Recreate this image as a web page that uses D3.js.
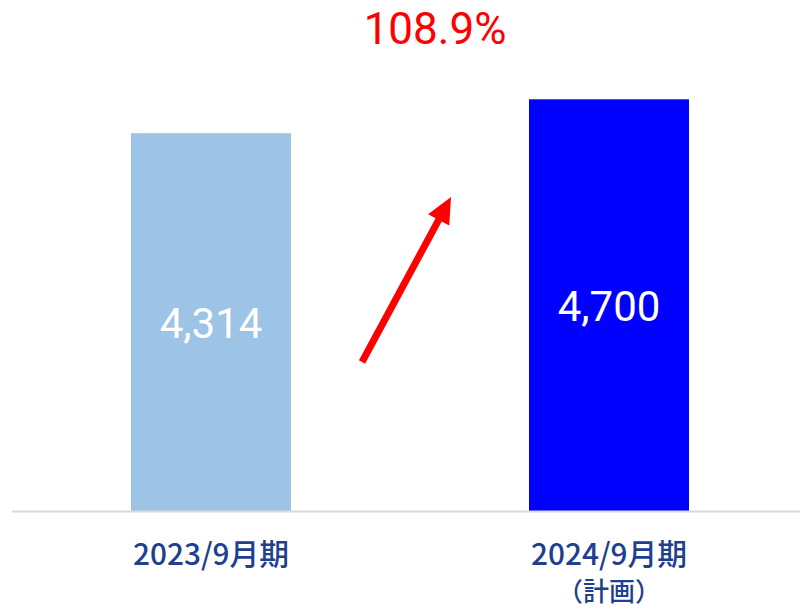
<!DOCTYPE html>
<html>
<head>
<meta charset="utf-8">
<script src="https://cdn.jsdelivr.net/npm/d3@7"></script>
<style>
  html, body { margin: 0; padding: 0; background: #ffffff; }
  svg { display: block; }
</style>
</head>
<body>
<div id="chart"></div>
<script>
// Sales by fiscal period (actual vs. plan)
const categories = ["2023/9月期", "2024/9月期"];
const subLabels = ["", "（計画）"];
const values = [4314, 4700];
const barColors = ["#9DC3E6", "#0000FF"];
const growthLabel = "108.9%";

const width = 800, height = 609;
const baseY = 511.5;

const svg = d3.select("#chart").append("svg")
  .attr("width", width).attr("height", height);

const x = d3.scaleBand()
  .domain(categories)
  .range([12, 808])
  .paddingInner(0.598)
  .paddingOuter(0.299);

const y = d3.scaleLinear()
  .domain([0, 5000])
  .range([baseY, baseY - 438.5]);

// bars
svg.selectAll("rect.bar")
  .data(values)
  .join("rect")
  .attr("class", "bar")
  .attr("x", (d, i) => x(categories[i]))
  .attr("y", d => y(d))
  .attr("width", x.bandwidth())
  .attr("height", d => y(0) - y(d))
  .attr("fill", (d, i) => barColors[i]);

// baseline
svg.append("line")
  .attr("x1", 12).attr("x2", width)
  .attr("y1", baseY).attr("y2", baseY)
  .attr("stroke", "#d9d9d9").attr("stroke-width", 2);

// value labels inside bars
const fmt = d3.format(",");
svg.selectAll("text.val")
  .data(values)
  .join("text")
  .attr("class", "val")
  .attr("x", (d, i) => x(categories[i]) + x.bandwidth() / 2)
  .attr("y", d => (y(d) + y(0)) / 2 + 16)
  .attr("text-anchor", "middle")
  .attr("font-family", "Roboto, 'Liberation Sans', sans-serif")
  .attr("font-size", 42)
  .attr("fill", "#ffffff")
  .text(d => fmt(d));

// category labels
const catFont = "'Noto Sans CJK JP', sans-serif";
svg.selectAll("text.cat")
  .data(categories)
  .join("text")
  .attr("class", "cat")
  .attr("x", d => x(d) + x.bandwidth() / 2)
  .attr("y", 565)
  .attr("text-anchor", "middle")
  .attr("font-family", catFont)
  .attr("font-size", 30)
  .attr("font-weight", 500)
  .attr("fill", "#203F8E")
  .attr("textLength", 156)
  .attr("lengthAdjust", "spacingAndGlyphs")
  .text(d => d);

svg.selectAll("text.sub")
  .data(subLabels.filter(s => s))
  .join("text")
  .attr("class", "sub")
  .attr("x", (d) => x(categories[subLabels.indexOf(d)]) + x.bandwidth() / 2)
  .attr("y", 601)
  .attr("text-anchor", "middle")
  .attr("font-family", catFont)
  .attr("font-size", 26)
  .attr("font-weight", 500)
  .attr("fill", "#203F8E")
  .attr("textLength", 104)
  .attr("lengthAdjust", "spacingAndGlyphs")
  .text(d => d);

// growth arrow between the bars
const tail = [362, 362];
const tip = [451, 197];
const ang = Math.atan2(tip[1] - tail[1], tip[0] - tail[0]);
const headLen = 26, headHalf = 12;
const baseC = [tip[0] - headLen * Math.cos(ang), tip[1] - headLen * Math.sin(ang)];
const nx = -Math.sin(ang), ny = Math.cos(ang);

svg.append("line")
  .attr("x1", tail[0]).attr("y1", tail[1])
  .attr("x2", baseC[0] + 2 * Math.cos(ang)).attr("y2", baseC[1] + 2 * Math.sin(ang))
  .attr("stroke", "#FF0000").attr("stroke-width", 7);

svg.append("polygon")
  .attr("points", [
    tip,
    [baseC[0] + nx * headHalf, baseC[1] + ny * headHalf],
    [baseC[0] - nx * headHalf, baseC[1] - ny * headHalf]
  ].map(p => p.join(",")).join(" "))
  .attr("fill", "#FF0000");

// growth rate
svg.append("text")
  .attr("x", 435)
  .attr("y", 44)
  .attr("text-anchor", "middle")
  .attr("font-family", "Roboto, 'Liberation Sans', sans-serif")
  .attr("font-size", 44)
  .attr("fill", "#FF0000")
  .text(growthLabel);
</script>
</body>
</html>
